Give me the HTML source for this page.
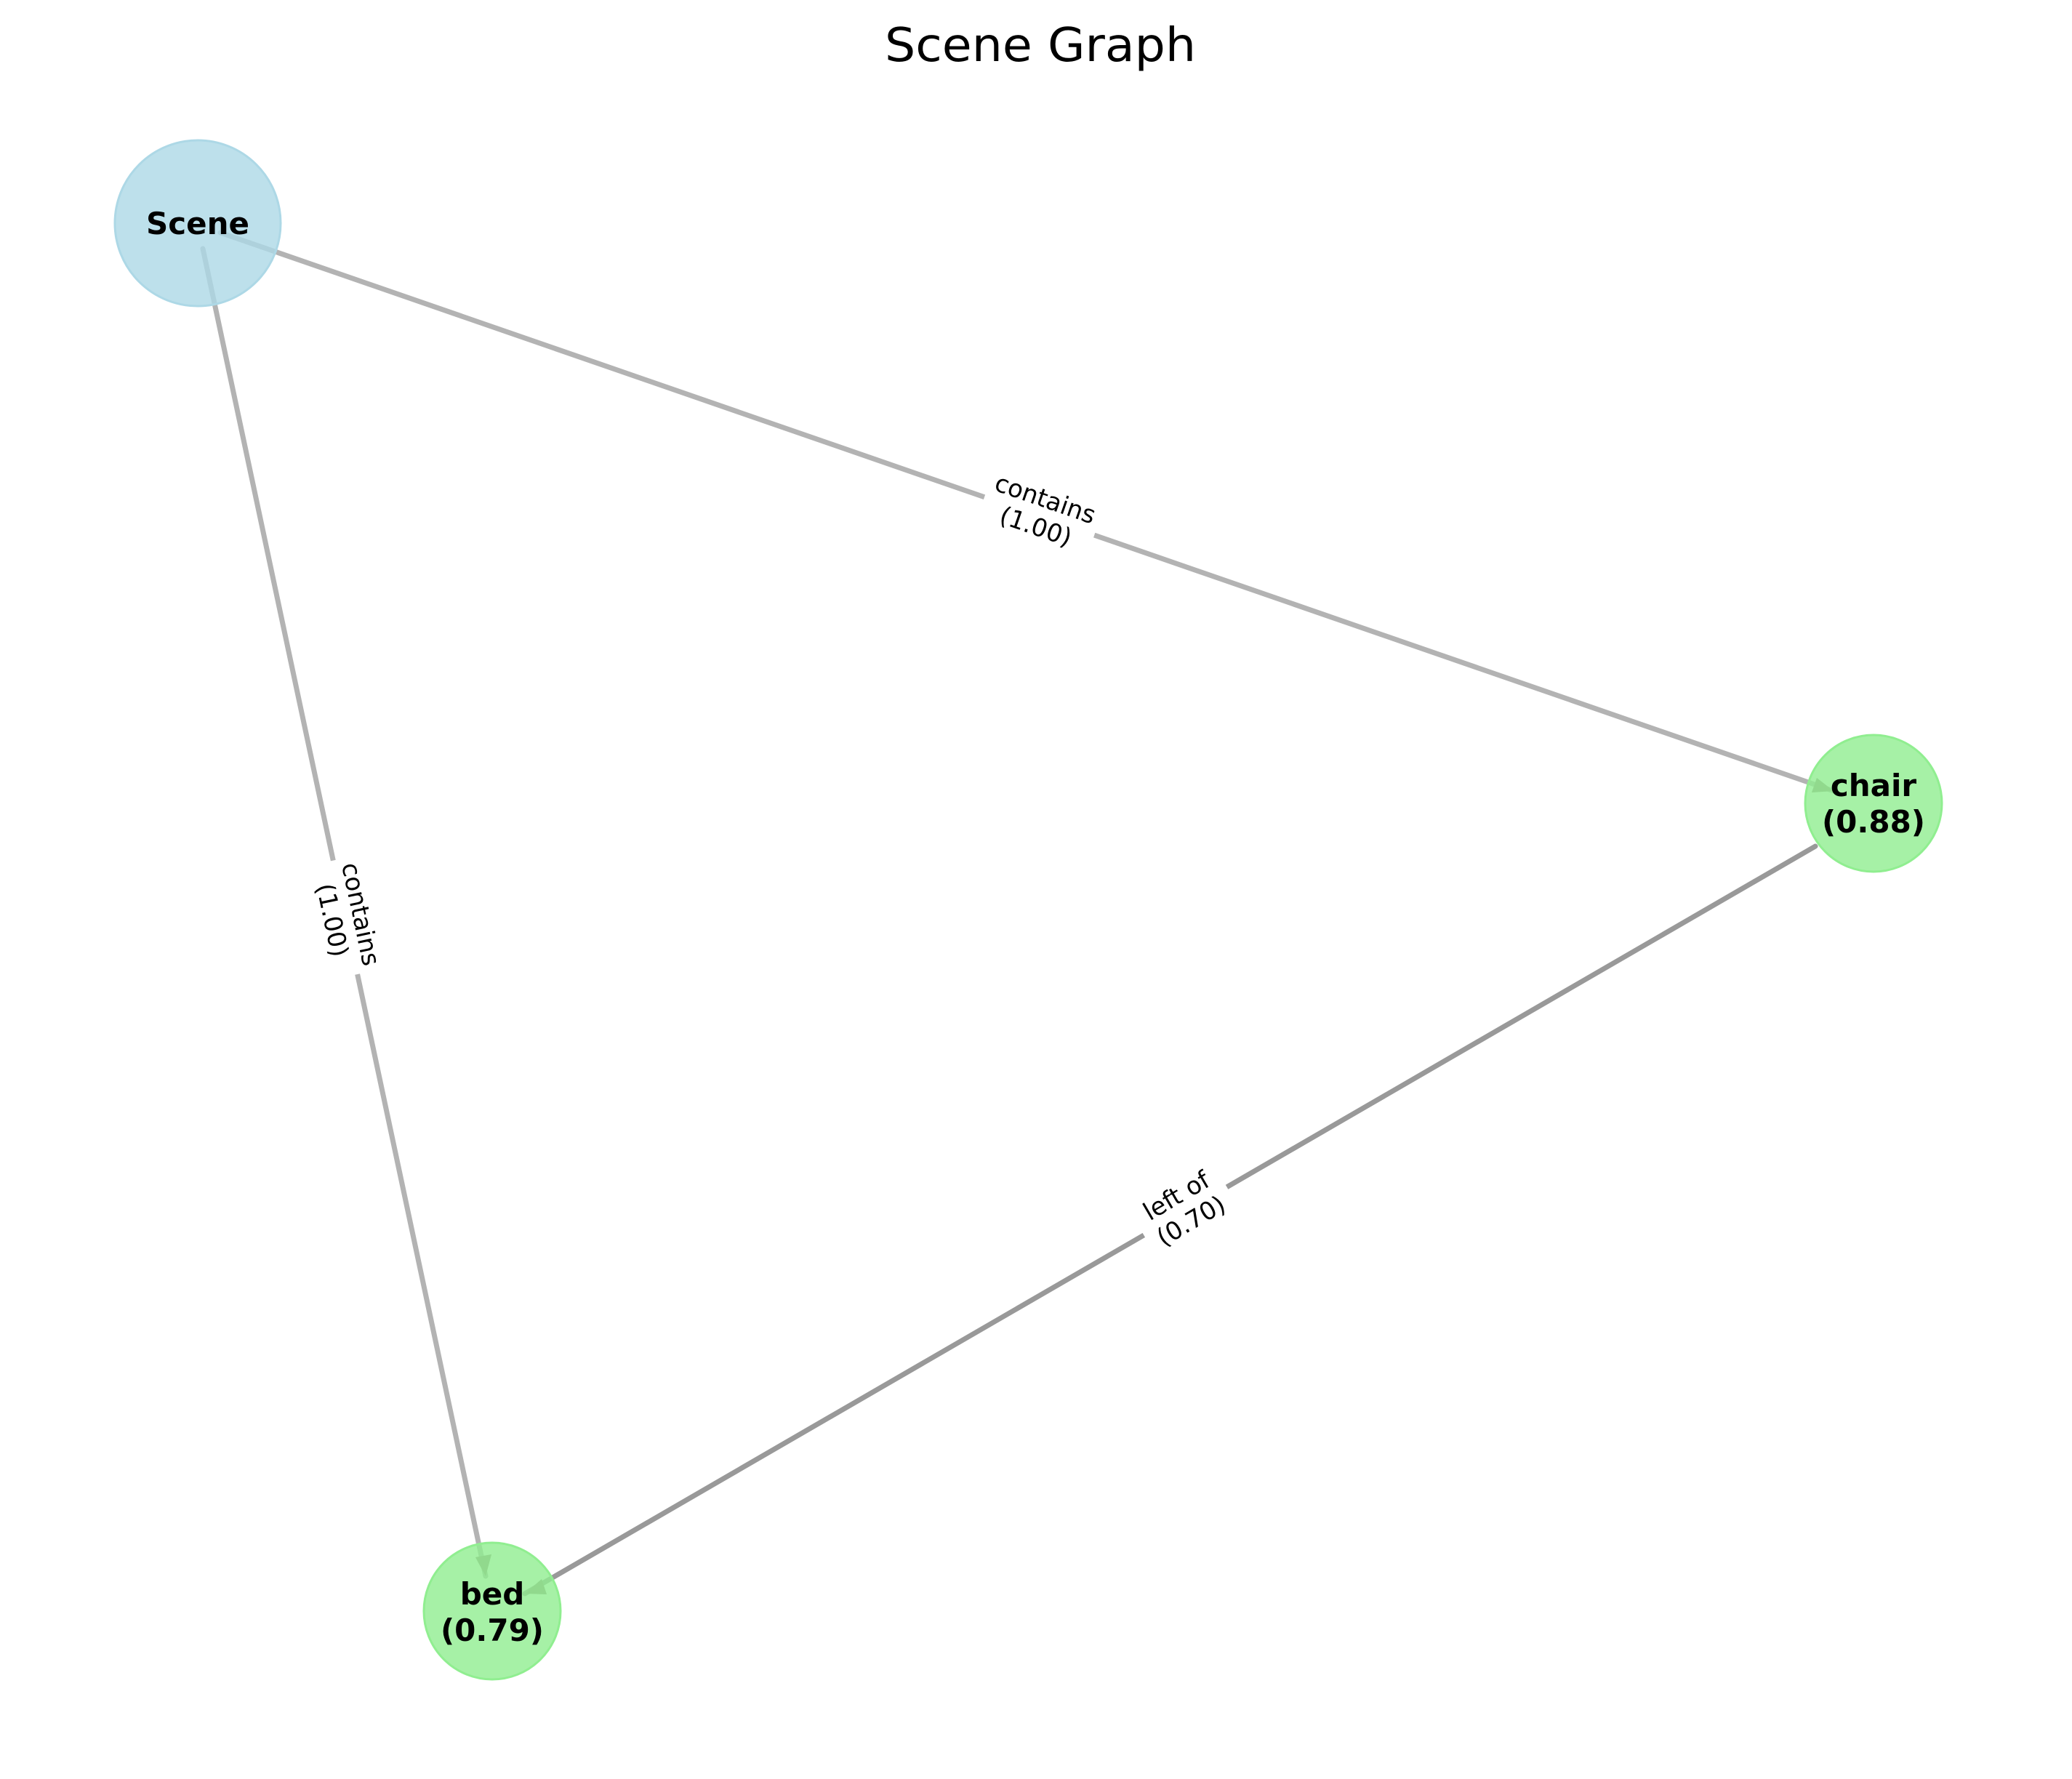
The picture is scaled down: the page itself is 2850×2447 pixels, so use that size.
<!DOCTYPE html>
<html><head><meta charset="utf-8"><style>
html,body{margin:0;padding:0;background:#fff;}
svg{display:block;}
text{font-family:"DejaVu Sans","Liberation Sans",sans-serif;}
</style></head><body>
<svg width="2850" height="2447" viewBox="0 0 2850 2447" xmlns="http://www.w3.org/2000/svg">
<text x="1431" y="84" font-size="64" text-anchor="middle" fill="#000" textLength="428" lengthAdjust="spacingAndGlyphs">Scene Graph</text>

<g stroke-linecap="round" stroke-width="7" fill="none">
<line x1="303" y1="320" x2="2522" y2="1088" stroke="#b3b3b3"/>
<line x1="279" y1="342" x2="668" y2="2168" stroke="#b3b3b3"/>
<line x1="2497" y1="1164" x2="722" y2="2192" stroke="#999999"/>
</g>
<g>
<polygon points="2522,1088 2492,1090 2499,1070" fill="#9fd699"/>
<polygon points="668,2168 654,2142 676,2138" fill="#9fd699"/>
<polygon points="722,2192 745,2172 752,2193" fill="#9fd699"/>
</g>

<g font-size="34" fill="#000" text-anchor="middle">
<g transform="translate(1432,703) rotate(19.1)">
<rect x="-80" y="-44" width="160" height="88" fill="#fff"/>
<text x="0" y="-6">contains</text><text x="0" y="34">(1.00)</text>
</g>
<g transform="translate(479,1261) rotate(78)">
<rect x="-80" y="-44" width="160" height="88" fill="#fff"/>
<text x="0" y="-6">contains</text><text x="0" y="34">(1.00)</text>
</g>
<g transform="translate(1627,1660) rotate(-30.3)">
<rect x="-66" y="-44" width="132" height="88" fill="#fff"/>
<text x="0" y="-6">left of</text><text x="0" y="34">(0.70)</text>
</g>
</g>

<circle cx="272" cy="307" r="114" fill="#add8e6" fill-opacity="0.8" stroke="#add8e6" stroke-width="3"/>
<circle cx="2577" cy="1105" r="94" fill="#90ee90" fill-opacity="0.8" stroke="#90ee90" stroke-width="3"/>
<circle cx="677" cy="2216" r="94" fill="#90ee90" fill-opacity="0.8" stroke="#90ee90" stroke-width="3"/>
<polygon points="2522,1088 2492,1090 2499,1070" fill="#8fcf8a" opacity="0.6"/>
<polygon points="668,2168 654,2142 676,2138" fill="#8fcf8a" opacity="0.6"/>
<polygon points="722,2192 745,2172 752,2193" fill="#8fcf8a" opacity="0.6"/>

<g font-size="42" font-weight="bold" fill="#000" text-anchor="middle">
<text x="272" y="322">Scene</text>
<text x="2577" y="1095">chair</text><text x="2577" y="1145">(0.88)</text>
<text x="677" y="2207">bed</text><text x="677" y="2257">(0.79)</text>
</g>
</svg>
</body></html>
